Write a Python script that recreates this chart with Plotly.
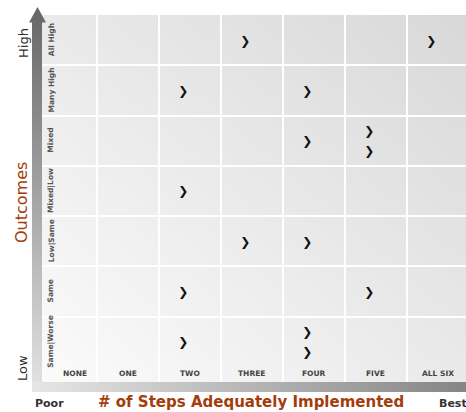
import base64
import plotly.graph_objects as go

# ---- data ----
steps = ["NONE", "ONE", "TWO", "THREE", "FOUR", "FIVE", "ALL SIX"]
outcomes = ["Same|Worse", "Same", "Low|Same", "Mixed|Low", "Mixed", "Many High", "All High"]

point_steps = ["THREE", "ALL SIX",
               "TWO", "FOUR",
               "FOUR", "FIVE", "FIVE",
               "TWO",
               "THREE", "FOUR",
               "TWO", "FIVE",
               "TWO", "FOUR", "FOUR"]
point_outcomes = ["All High", "All High",
                  "Many High", "Many High",
                  "Mixed", "Mixed", "Mixed",
                  "Mixed|Low",
                  "Low|Same", "Low|Same",
                  "Same", "Same",
                  "Same|Worse", "Same|Worse", "Same|Worse"]

y_axis_ends = ["Low", "High"]
y_title = "Outcomes"
x_axis_ends = ["Poor", "Best"]
x_title = "# of Steps Adequately Implemented"

# ---- layout constants ----
W, H = 466, 412
ML, MR, MT, MB = 42, 0, 15, 30
PW, PH = W - ML - MR, H - MT - MB
ACCENT = "#A33D0E"
FONT = "DejaVu Sans"


def svg_uri(svg):
    return "data:image/svg+xml;base64," + base64.b64encode(svg.encode()).decode()


bg_svg = ("<svg xmlns='http://www.w3.org/2000/svg' width='100' height='100' viewBox='0 0 100 100' "
          "preserveAspectRatio='none'><defs><linearGradient id='g' x1='0' y1='1' x2='1' y2='0'>"
          "<stop offset='0' stop-color='#fbfbfb'/><stop offset='1' stop-color='#d8d8d8'/>"
          "</linearGradient></defs><rect width='100' height='100' fill='url(#g)'/></svg>")

varrow_svg = ("<svg xmlns='http://www.w3.org/2000/svg' width='17' height='385' viewBox='0 0 17 385' "
              "preserveAspectRatio='none'><defs><linearGradient id='g' x1='0' y1='0' x2='0' y2='1'>"
              "<stop offset='0' stop-color='#666666'/><stop offset='1' stop-color='#e4e4e4'/>"
              "</linearGradient></defs>"
              "<path d='M8.5,0 L17,15.5 L13,15.5 L13,385 L3,385 L3,15.5 L0,15.5 Z' fill='url(#g)'/></svg>")

hbar_svg = ("<svg xmlns='http://www.w3.org/2000/svg' width='434' height='10' viewBox='0 0 434 10' "
            "preserveAspectRatio='none'><defs><linearGradient id='g' x1='0' y1='0' x2='1' y2='0'>"
            "<stop offset='0' stop-color='#e6e6e6'/><stop offset='1' stop-color='#858585'/>"
            "</linearGradient></defs><rect width='434' height='10' fill='url(#g)'/></svg>")


def px_x(p):
    return (p - ML) / PW


def px_y(p):
    return (H - MB - p) / PH


images = [
    dict(source=svg_uri(bg_svg), xref="paper", yref="paper", x=0, y=1, sizex=1, sizey=1,
         xanchor="left", yanchor="top", sizing="stretch", layer="below"),
    dict(source=svg_uri(varrow_svg), xref="paper", yref="paper", x=px_x(29), y=px_y(7),
         sizex=17 / PW, sizey=385 / PH, xanchor="left", yanchor="top", sizing="stretch", layer="below"),
    dict(source=svg_uri(hbar_svg), xref="paper", yref="paper", x=px_x(32), y=px_y(382),
         sizex=434 / PW, sizey=10 / PH, xanchor="left", yanchor="top", sizing="stretch", layer="below"),
]

# ---- chevron positions: stack duplicates within a cell ----
counts = {}
for s, o in zip(point_steps, point_outcomes):
    counts[(s, o)] = counts.get((s, o), 0) + 1
seen = {}
xs, ys = [], []
X_OFF = -0.11
Y_OFF = -0.03
STACK = 0.4
for s, o in zip(point_steps, point_outcomes):
    n = counts[(s, o)]
    i = seen.get((s, o), 0)
    seen[(s, o)] = i + 1
    xs.append(steps.index(s) + X_OFF)
    ys.append(outcomes.index(o) + Y_OFF + (((n - 1) / 2) - i) * STACK)

fig = go.Figure()
fig.add_trace(go.Scatter(
    x=xs, y=ys, mode="text", text=["❯"] * len(xs),
    textfont=dict(family=FONT, size=12, color="#111111"),
    textposition="middle center", hoverinfo="skip", showlegend=False,
))

annotations = []
for k, lab in enumerate(steps):
    annotations.append(dict(
        x=k, y=0, xref="x", yref="y domain", text=lab, showarrow=False,
        xanchor="center", yanchor="middle", yshift=8.5, xshift=(9 if k == 0 else 0),
        font=dict(family=FONT, size=7.5, color="#444444", weight="bold")))
for k, lab in enumerate(outcomes):
    annotations.append(dict(
        x=0, y=k, xref="x domain", yref="y", text=lab, showarrow=False, textangle=-90,
        xanchor="center", yanchor="middle", xshift=9,
        font=dict(family=FONT, size=7.5, color="#555555", weight="bold")))

annotations += [
    dict(x=23, y=H - 43, xref="paper", yref="paper", text=y_axis_ends[1], showarrow=False,
         textangle=-90, font=dict(family=FONT, size=13, color="#333333")),
    dict(x=22, y=H - 368, xref="paper", yref="paper", text=y_axis_ends[0], showarrow=False,
         textangle=-90, font=dict(family=FONT, size=13, color="#333333")),
    dict(x=21, y=H - 203, xref="paper", yref="paper", text=y_title, showarrow=False,
         textangle=-90, font=dict(family=FONT, size=16, color=ACCENT)),
    dict(x=49, y=H - 403, xref="paper", yref="paper", text=x_axis_ends[0], showarrow=False,
         font=dict(family=FONT, size=11, color="#333333", weight="bold")),
    dict(x=453, y=H - 403, xref="paper", yref="paper", text=x_axis_ends[1], showarrow=False,
         font=dict(family=FONT, size=11, color="#333333", weight="bold")),
    dict(x=251, y=H - 402, xref="paper", yref="paper", text=x_title, showarrow=False,
         font=dict(family=FONT, size=15, color=ACCENT, weight="bold")),
]
# convert pixel-positioned paper annotations
for a in annotations:
    if a.get("xref") == "paper":
        a["x"] = (a["x"] - ML) / PW
        a["y"] = (a["y"] - MB) / PH
        a["xanchor"] = "center"
        a["yanchor"] = "middle"

fig.update_layout(
    width=W, height=H, autosize=False,
    margin=dict(l=ML, r=MR, t=MT, b=MB, pad=0),
    paper_bgcolor="white", plot_bgcolor="rgba(0,0,0,0)",
    images=images, annotations=annotations,
    xaxis=dict(range=[-0.387, 6.452], tickvals=[k + 0.5 for k in range(len(steps) - 1)],
               showticklabels=False, ticks="", showgrid=True, gridcolor="white", gridwidth=1.5,
               zeroline=False, showline=False, fixedrange=True),
    yaxis=dict(range=[-0.8, 6.5], tickvals=[k + 0.5 for k in range(len(outcomes) - 1)],
               showticklabels=False, ticks="", showgrid=True, gridcolor="white", gridwidth=1.5,
               zeroline=False, showline=False, fixedrange=True),
)

fig.write_html("out.html", config={"displayModeBar": False},
               post_script="document.body.style.margin='0';document.body.style.overflow='hidden';")
